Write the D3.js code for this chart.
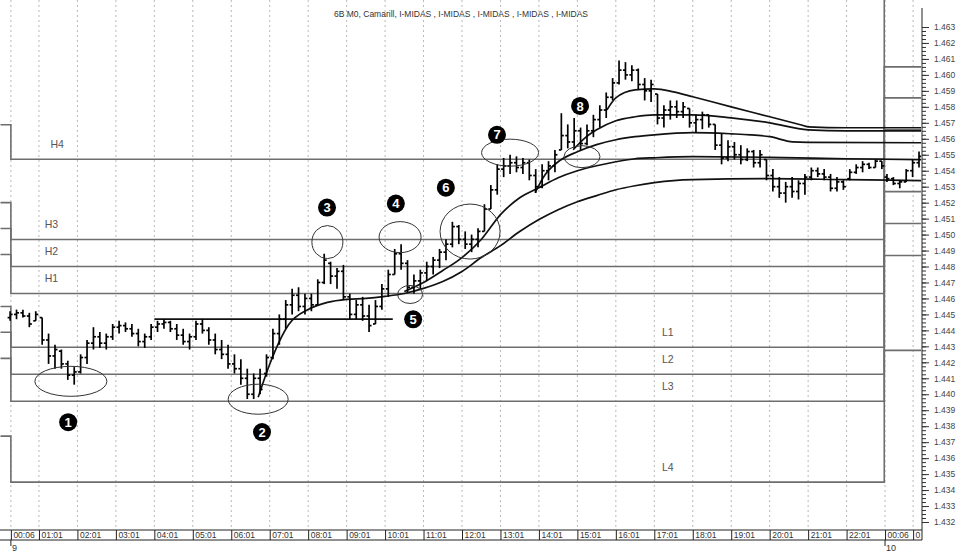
<!DOCTYPE html>
<html>
<head>
<meta charset="utf-8">
<script src="https://cdn.jsdelivr.net/npm/d3@7"></script>
<style>
  body { margin: 0; background: #fff; }
  text { font-family: "Liberation Sans", Arial, sans-serif; }
</style>
</head>
<body>
<svg></svg>
<script>
// Set chart dimensions
var width = 966;
var height = 553;
var plotRight = 921;   // right edge of the price pane (y axis sits here)
var plotBottom = 530;  // top of the time axis box

// ---- data ----
var title = '6B M0, Camarill, I-MIDAS , I-MIDAS , I-MIDAS , I-MIDAS , I-MIDAS';

// time axis, positions in hour slots
var tickHours = [0.27, 1, 2, 3, 4, 5, 6, 7, 8, 9, 10, 11, 12, 13, 14, 15, 16, 17, 18, 19, 20, 21, 22, 23, 23.73];
var tickLabels = ['00:06', '01:01', '02:01', '03:01', '04:01', '05:01', '06:01', '07:01', '08:01', '09:01', '10:01',
  '11:01', '12:01', '13:01', '14:01', '15:01', '16:01', '17:01', '18:01', '19:01', '20:01', '21:01', '22:01', '00:06', '01:01'];
var dayHours = [0.27, 23];
var dayLabels = ['9', '10'];

var priceTicks = d3.range(1432, 1464).map(d => d / 1000);

// 10 minute bars
var barStep = 1 / 6;
var day9Start = 0.25;
var day10Start = 23.05;

var day9Open = [
  1.4448,1.4450,1.4451,1.4449,1.4446,1.4448,1.4434,1.4424,1.4427,1.4419,
  1.4412,1.4414,1.4423,1.4432,1.4436,1.4432,1.4436,1.4442,1.4443,1.4441,
  1.4438,1.4433,1.4436,1.4442,1.4444,1.4445,1.4441,1.4437,1.4433,1.4436,
  1.4444,1.4440,1.4434,1.4428,1.4425,1.4419,1.4416,1.4410,1.4400,1.4410,
  1.4413,1.4423,1.4438,1.4447,1.4456,1.4462,1.4455,1.4460,1.4456,1.4470,
  1.4482,1.4474,1.4477,1.4461,1.4450,1.4456,1.4449,1.4444,1.4455,1.4466,
  1.4475,1.4488,1.4482,1.4467,1.4471,1.4476,1.4480,1.4484,1.4489,1.4494,
  1.4505,1.4497,1.4494,1.4497,1.4502,1.4516,1.4528,1.4541,1.4543,1.4545,
  1.4542,1.4545,1.4537,1.4530,1.4540,1.4543,1.4553,1.4562,1.4558,1.4565,
  1.4557,1.4565,1.4572,1.4578,1.4586,1.4595,1.4603,1.4600,1.4603,1.4594,
  1.4590,1.4588,1.4573,1.4578,1.4580,1.4577,1.4579,1.4570,1.4572,1.4575,
  1.4569,1.4556,1.4548,1.4555,1.4550,1.4547,1.4552,1.4545,1.4547,1.4537,
  1.4530,1.4526,1.4530,1.4527,1.4532,1.4536,1.4540,1.4538,1.4536,1.4529,
  1.4533,1.4535,1.4539,1.4542,1.4544,1.4542,1.4546];
var day9High = [
  1.4452,1.4453,1.4453,1.4451,1.4452,1.4448,1.4438,1.4431,1.4428,1.4421,
  1.4417,1.4425,1.4434,1.4442,1.4439,1.4438,1.4444,1.4446,1.4445,1.4444,
  1.4441,1.4438,1.4444,1.4446,1.4447,1.4446,1.4444,1.4441,1.4438,1.4446,
  1.4447,1.4442,1.4438,1.4434,1.4431,1.4425,1.4422,1.4416,1.4413,1.4416,
  1.4425,1.4441,1.4450,1.4459,1.4466,1.4467,1.4463,1.4463,1.4472,1.4488,
  1.4483,1.4479,1.4481,1.4463,1.4459,1.4461,1.4456,1.4459,1.4469,1.4478,
  1.4491,1.4494,1.4484,1.4475,1.4478,1.4483,1.4486,1.4491,1.4497,1.4508,
  1.4506,1.4502,1.4500,1.4504,1.4519,1.4531,1.4544,1.4548,1.4550,1.4549,
  1.4548,1.4547,1.4541,1.4544,1.4546,1.4553,1.4576,1.4569,1.4573,1.4567,
  1.4569,1.4575,1.4581,1.4589,1.4598,1.4609,1.4608,1.4606,1.4604,1.4598,
  1.4597,1.4588,1.4581,1.4584,1.4584,1.4583,1.4579,1.4575,1.4577,1.4575,
  1.4569,1.4563,1.4559,1.4558,1.4556,1.4554,1.4553,1.4553,1.4547,1.4541,
  1.4536,1.4533,1.4536,1.4534,1.4538,1.4542,1.4542,1.4541,1.4538,1.4536,
  1.4534,1.4541,1.4544,1.4546,1.4545,1.4547,1.4546];
var day9Low = [
  1.4446,1.4447,1.4448,1.4442,1.4446,1.4431,1.4419,1.4416,1.4416,1.4409,
  1.4406,1.4413,1.4419,1.4428,1.4429,1.4428,1.4434,1.4438,1.4439,1.4436,
  1.4430,1.4429,1.4434,1.4439,1.4441,1.4439,1.4434,1.4431,1.4428,1.4434,
  1.4438,1.4431,1.4425,1.4422,1.4416,1.4413,1.4406,1.4397,1.4397,1.4400,
  1.4411,1.4422,1.4431,1.4441,1.4450,1.4452,1.4450,1.4452,1.4456,1.4469,
  1.4469,1.4466,1.4459,1.4447,1.4447,1.4446,1.4439,1.4444,1.4453,1.4461,
  1.4475,1.4478,1.4464,1.4463,1.4466,1.4471,1.4475,1.4479,1.4484,1.4492,
  1.4494,1.4491,1.4489,1.4492,1.4502,1.4516,1.4525,1.4536,1.4538,1.4539,
  1.4538,1.4534,1.4526,1.4529,1.4534,1.4539,1.4553,1.4554,1.4554,1.4553,
  1.4556,1.4561,1.4567,1.4573,1.4584,1.4594,1.4597,1.4596,1.4591,1.4584,
  1.4583,1.4569,1.4567,1.4572,1.4573,1.4573,1.4567,1.4564,1.4566,1.4567,
  1.4553,1.4544,1.4546,1.4547,1.4544,1.4546,1.4542,1.4542,1.4534,1.4527,
  1.4523,1.4520,1.4523,1.4522,1.4525,1.4534,1.4536,1.4534,1.4527,1.4527,
  1.4528,1.4534,1.4538,1.4539,1.4541,1.4542,1.4541];
var day9Close = [
  1.4450,1.4451,1.4449,1.4444,1.4450,1.4434,1.4424,1.4428,1.4419,1.4412,
  1.4414,1.4423,1.4432,1.4436,1.4432,1.4436,1.4442,1.4443,1.4441,1.4438,
  1.4433,1.4436,1.4442,1.4444,1.4445,1.4441,1.4437,1.4433,1.4436,1.4444,
  1.4440,1.4434,1.4428,1.4425,1.4419,1.4416,1.4410,1.4400,1.4410,1.4403,
  1.4423,1.4438,1.4447,1.4456,1.4462,1.4455,1.4460,1.4456,1.4470,1.4484,
  1.4474,1.4477,1.4461,1.4450,1.4456,1.4449,1.4443,1.4455,1.4466,1.4475,
  1.4488,1.4482,1.4467,1.4471,1.4476,1.4480,1.4484,1.4489,1.4494,1.4505,
  1.4497,1.4494,1.4497,1.4502,1.4516,1.4528,1.4541,1.4543,1.4545,1.4542,
  1.4545,1.4537,1.4530,1.4540,1.4543,1.4550,1.4562,1.4558,1.4565,1.4557,
  1.4565,1.4572,1.4578,1.4586,1.4595,1.4603,1.4600,1.4603,1.4594,1.4590,
  1.4594,1.4573,1.4578,1.4580,1.4577,1.4580,1.4570,1.4572,1.4575,1.4569,
  1.4556,1.4548,1.4555,1.4550,1.4547,1.4552,1.4545,1.4550,1.4537,1.4530,
  1.4526,1.4530,1.4527,1.4532,1.4536,1.4540,1.4538,1.4536,1.4529,1.4533,
  1.4530,1.4539,1.4542,1.4544,1.4542,1.4546,1.4543];

var day10Open = [1.4536, 1.4535, 1.4532, 1.4533, 1.4540, 1.4545];
var day10High = [1.4538, 1.4536, 1.4534, 1.4541, 1.4547, 1.4552];
var day10Low = [1.4533, 1.4531, 1.4529, 1.4533, 1.4536, 1.4542];
var day10Close = [1.4535, 1.4532, 1.4533, 1.4540, 1.4545, 1.4549];

// Camarilla levels: previous session, session of the 9th, session of the 10th
var levelNames = ['H4', 'H3', 'H2', 'H1', 'L1', 'L2', 'L3', 'L4'];
var levelsPrev = [1.45688, 1.45200, 1.45038, 1.44875, 1.44550, 1.44388, 1.44225, 1.43738];
var levels9 = [1.45472, 1.44969, 1.44800, 1.44631, 1.44294, 1.44125, 1.43956, 1.43450];
var levels10 = [1.46644, 1.46050, 1.45856, 1.45656, 1.45269, 1.45069, 1.44869, 1.44275];
var levelBreaks = [0, 0.27, 22.98, 24];
var levelLabelHours = [1.3, 1.15, 1.15, 1.15, 17.2, 17.2, 17.2, 17.2];

// reference line (prior close)
var refPrice = 1.4447;
var refFrom = 4.0;
var refTo = 10.2;

// I-MIDAS curves (hour slot, price)
var midas1Hours = [15.77, 16, 16.5, 17, 17.5, 18, 19, 20, 20.8, 21, 22, 24];
var midas1Prices = [1.45781, 1.45856, 1.45906, 1.45913, 1.45894, 1.45863, 1.45800, 1.45738, 1.45688, 1.45675, 1.45669, 1.45669];
var midas2Hours = [14.89, 15.2, 15.5, 16, 16.5, 17, 18, 19, 20, 21, 22, 24];
var midas2Prices = [1.45531, 1.45606, 1.45656, 1.45713, 1.45738, 1.45750, 1.45750, 1.45731, 1.45700, 1.45656, 1.45650, 1.45650];
var midas3Hours = [13.9, 14.16, 14.5, 15, 15.5, 16, 16.5, 17, 18, 19, 19.5, 20, 20.6, 21, 24];
var midas3Prices = [1.45263, 1.45375, 1.45456, 1.45519, 1.45563, 1.45594, 1.45613, 1.45625, 1.45638, 1.45631, 1.45625, 1.45613, 1.45581, 1.45578, 1.45575];
var midas4Hours = [10.5, 11, 11.5, 12, 12.5, 13, 13.5, 14, 14.5, 15, 15.5, 16, 16.5, 17, 18, 20, 22, 24];
var midas4Prices = [1.44644, 1.44700, 1.44775, 1.44856, 1.44969, 1.45125, 1.45231, 1.45294, 1.45356, 1.45400, 1.45431, 1.45456, 1.45475, 1.45481, 1.45488, 1.45484, 1.45475, 1.45469];
var midas5Hours = [6.7, 7, 7.5, 8, 8.5, 9, 9.5, 10, 10.5, 11, 11.5, 12, 12.5, 13, 13.5, 14, 14.5, 15, 15.5, 16, 16.5, 17, 17.5, 18, 20, 22, 24];
var midas5Prices = [1.43981, 1.44188, 1.44438, 1.44531, 1.44575, 1.44594, 1.44600, 1.44613, 1.44631, 1.44663, 1.44706, 1.44769, 1.44856, 1.44931, 1.45019, 1.45094, 1.45156, 1.45206, 1.45244, 1.45281, 1.45306, 1.45325, 1.45338, 1.45344, 1.45350, 1.45344, 1.45338];

// annotations
var ringHours = [1.83, 6.70, 8.50, 10.39, 10.65, 12.21, 13.25, 15.12];
var ringPrices = [1.44081, 1.43969, 1.44953, 1.44984, 1.44625, 1.45019, 1.45513, 1.45488];
var markerHours = [1.76, 6.80, 8.49, 10.28, 10.73, 11.58, 12.91, 15.07];
var markerPrices = [1.43825, 1.43763, 1.45169, 1.45194, 1.44469, 1.45294, 1.45625, 1.45806];

// ---- scales ----
var x = d3.scaleLinear()
  .domain([0, 24])
  .range([0.5, 923.5]);

var y = d3.scaleLinear()
  .domain([1.432, 1.463])
  .range([522, 27]);

var svg = d3.select('svg')
  .attr('width', width)
  .attr('height', height);

svg.append('defs').append('clipPath')
  .attr('id', 'pane')
  .append('rect')
    .attr('x', 0)
    .attr('y', 0)
    .attr('width', plotRight)
    .attr('height', plotBottom);

svg.select('defs').append('clipPath')
  .attr('id', 'axisbox')
  .append('rect')
    .attr('x', 0)
    .attr('y', plotBottom)
    .attr('width', plotRight)
    .attr('height', 12);

// vertical dotted grid
svg.append('g')
  .selectAll('line')
  .data(tickHours)
  .enter()
  .append('line')
    .attr('x1', d => x(d))
    .attr('x2', d => x(d))
    .attr('y1', 0)
    .attr('y2', plotBottom)
    .attr('stroke', '#b8b8b8')
    .attr('stroke-dasharray', '2,3');

var pane = svg.append('g').attr('clip-path', 'url(#pane)');

// Camarilla levels as steps over the three sessions
var stepLine = d3.line()
  .x(d => x(d[0]))
  .y(d => y(d[1]))
  .curve(d3.curveStepAfter);

pane.selectAll('path.level')
  .data(levelNames)
  .enter()
  .append('path')
    .attr('class', 'level')
    .attr('d', (d, i) => stepLine([
      [levelBreaks[0], levelsPrev[i]],
      [levelBreaks[1], levels9[i]],
      [levelBreaks[2], levels10[i]],
      [levelBreaks[3], levels10[i]]
    ]))
    .attr('fill', 'none')
    .attr('stroke', '#6e6e6e')
    .attr('stroke-width', 1.6);

pane.selectAll('text.level')
  .data(levelNames)
  .enter()
  .append('text')
    .attr('class', 'level')
    .attr('x', (d, i) => x(levelLabelHours[i]))
    .attr('y', (d, i) => y(levels9[i]))
    .attr('dy', '-1.1em')
    .style('font-size', '10.5px')
    .attr('fill', '#555')
    .text(d => d);

// reference line
pane.append('line')
  .attr('x1', x(refFrom))
  .attr('x2', x(refTo))
  .attr('y1', y(refPrice))
  .attr('y2', y(refPrice))
  .attr('stroke', '#111')
  .attr('stroke-width', 1.8);

// MIDAS curves
var curveLine = d3.line()
  .x(d => x(d[0]))
  .y(d => y(d[1]))
  .curve(d3.curveMonotoneX);

var midas = [
  d3.zip(midas1Hours, midas1Prices),
  d3.zip(midas2Hours, midas2Prices),
  d3.zip(midas3Hours, midas3Prices),
  d3.zip(midas4Hours, midas4Prices),
  d3.zip(midas5Hours, midas5Prices)
];

pane.selectAll('path.midas')
  .data(midas)
  .enter()
  .append('path')
    .attr('class', 'midas')
    .attr('d', curveLine)
    .attr('fill', 'none')
    .attr('stroke', '#111')
    .attr('stroke-width', 1.7);

// OHLC bars
var bars = day9High.map((h, i) => ({
  t: day9Start + i * barStep, o: day9Open[i], h: h, l: day9Low[i], c: day9Close[i]
})).concat(day10High.map((h, i) => ({
  t: day10Start + i * barStep, o: day10Open[i], h: h, l: day10Low[i], c: day10Close[i]
})));

var bar = pane.append('g')
  .attr('stroke', '#000')
  .attr('stroke-width', 1.7)
  .selectAll('g')
  .data(bars)
  .enter()
  .append('g');

bar.append('line')
  .attr('x1', d => x(d.t))
  .attr('x2', d => x(d.t))
  .attr('y1', d => y(d.h))
  .attr('y2', d => y(d.l));

bar.append('line')
  .attr('x1', d => x(d.t) - 2.5)
  .attr('x2', d => x(d.t))
  .attr('y1', d => y(d.o))
  .attr('y2', d => y(d.o));

bar.append('line')
  .attr('x1', d => x(d.t))
  .attr('x2', d => x(d.t) + 2.5)
  .attr('y1', d => y(d.c))
  .attr('y2', d => y(d.c));

// hand drawn rings
var ringRx = [36, 30, 15.5, 21, 12.5, 30, 28.5, 18];
var ringRy = [15, 15, 16.5, 15.5, 9, 27.5, 13.5, 11];

pane.selectAll('ellipse')
  .data(ringHours)
  .enter()
  .append('ellipse')
    .attr('cx', d => x(d))
    .attr('cy', (d, i) => y(ringPrices[i]))
    .attr('rx', (d, i) => ringRx[i])
    .attr('ry', (d, i) => ringRy[i])
    .attr('fill', 'none')
    .attr('stroke', '#333')
    .attr('stroke-width', 1);

// numbered markers
var marker = pane.selectAll('g.marker')
  .data(markerHours)
  .enter()
  .append('g')
    .attr('class', 'marker')
    .attr('transform', (d, i) => 'translate(' + x(d) + ',' + y(markerPrices[i]) + ')');

marker.append('circle')
  .attr('r', 9)
  .attr('fill', '#000');

marker.append('text')
  .attr('dy', '0.36em')
  .style('text-anchor', 'middle')
  .style('font-size', '13px')
  .style('font-weight', 'bold')
  .attr('fill', '#fff')
  .text((d, i) => i + 1);

// price axis
var yAxis = d3.axisRight(y)
  .tickValues(priceTicks)
  .tickFormat(d3.format('.3f'))
  .tickSize(7)
  .tickSizeOuter(0);

var yMinor = d3.axisRight(y)
  .tickValues(d3.range(1432 * 4, 1463 * 4 + 1).map(d => d / 4000))
  .tickFormat('')
  .tickSize(4)
  .tickSizeOuter(0);

svg.append('g')
  .attr('transform', 'translate(' + (plotRight + 1) + ',0)')
  .call(yMinor)
  .call(g => g.select('.domain').remove())
  .selectAll('line').attr('stroke', '#333');

var yG = svg.append('g')
  .attr('transform', 'translate(' + (plotRight + 1) + ',0)')
  .call(yAxis)
  .call(g => g.select('.domain').remove());

yG.selectAll('line').attr('stroke', '#333');
yG.selectAll('text')
  .attr('x', 12)
  .style('font-size', '8.5px')
  .attr('fill', '#444');

svg.append('line')
  .attr('x1', plotRight + 1)
  .attr('x2', plotRight + 1)
  .attr('y1', 8)
  .attr('y2', plotBottom + 10)
  .attr('stroke', '#222');

// time axis box
var xAxis = d3.axisBottom(x)
  .tickValues(tickHours)
  .tickFormat((d, i) => tickLabels[i])
  .tickSize(10)
  .tickSizeOuter(0);

var xG = svg.append('g')
  .attr('clip-path', 'url(#axisbox)')
  .append('g')
    .attr('transform', 'translate(0,' + plotBottom + ')')
    .call(xAxis)
    .call(g => g.select('.domain').remove());

xG.selectAll('line').attr('stroke', '#222');
xG.selectAll('text')
  .attr('x', 2)
  .attr('y', 5)
  .attr('dy', '0.35em')
  .style('text-anchor', 'start')
  .style('font-size', '8.5px')
  .attr('fill', '#333');

svg.append('g')
  .selectAll('line')
  .data([plotBottom, plotBottom + 10])
  .enter()
  .append('line')
    .attr('x1', 0)
    .attr('x2', plotRight + 1)
    .attr('y1', d => d)
    .attr('y2', d => d)
    .attr('stroke', '#222');

// day marks
var day = svg.append('g')
  .selectAll('g')
  .data(dayHours)
  .enter()
  .append('g')
    .attr('transform', d => 'translate(' + x(d) + ',0)');

day.append('line')
  .attr('y1', plotBottom + 10)
  .attr('y2', plotBottom + 16)
  .attr('stroke', '#222');

day.append('text')
  .attr('x', 1)
  .attr('y', height - 2)
  .style('font-size', '9px')
  .attr('fill', '#333')
  .text((d, i) => dayLabels[i]);

// Title
svg.append('text')
  .attr('x', 461)
  .attr('y', 17)
  .style('text-anchor', 'middle')
  .style('font-size', '8.5px')
  .attr('fill', '#333')
  .text(title);
</script>
</body>
</html>
